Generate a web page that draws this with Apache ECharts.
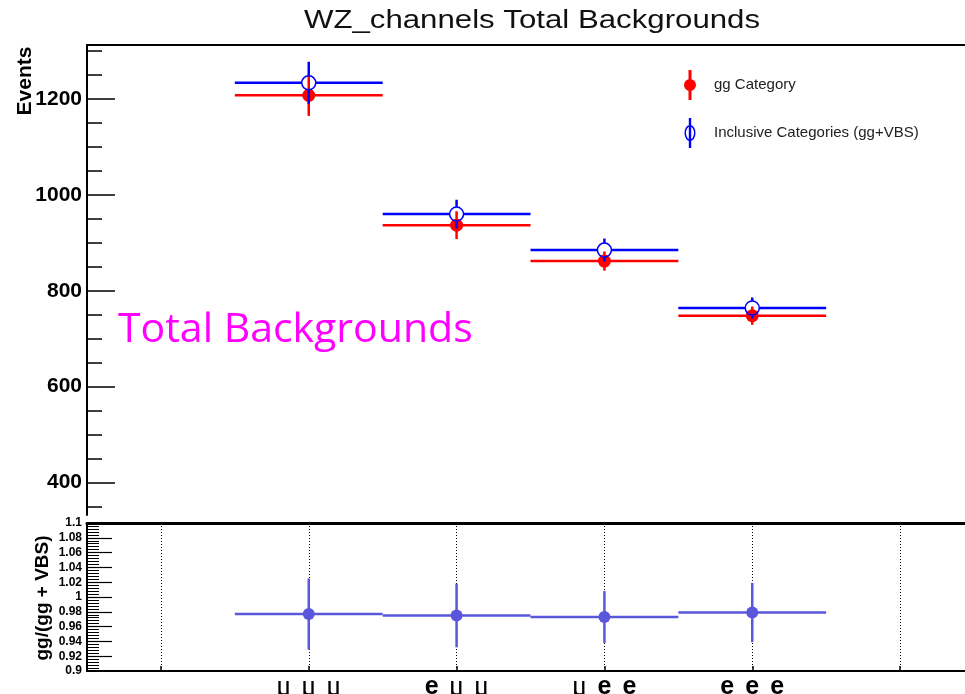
<!DOCTYPE html>
<html>
<head>
<meta charset="utf-8">
<script src="https://cdn.jsdelivr.net/npm/echarts@6/dist/echarts.min.js"></script>
<style>
html, body { margin: 0; padding: 0; background: #fff; }
#chart { width: 965px; height: 694px; }
</style>
</head>
<body>
<div id="chart"></div>
<script>
// channels (bins 1..4 of a 6-bin axis, first and last bins empty)
var channels = ['μμμ', 'eμμ', 'μee', 'eee'];
var channelPos = [1.5, 2.5, 3.5, 4.5];
var binCenters = [0.5, 1.5, 2.5, 3.5, 4.5, 5.5];

var ggValues = [1208, 937, 862, 748];
var ggErrors = [43, 29, 20, 19];
var inclValues = [1234, 960, 885, 764];
var inclErrors = [44, 30, 24, 22];
var ratioValues = [0.977, 0.975, 0.973, 0.979];
var ratioErrors = [0.048, 0.043, 0.035, 0.040];

var eventTicks = [400, 600, 800, 1000, 1200];
var eventMinorTicks = [350, 400, 450, 500, 550, 600, 650, 700, 750, 800, 850, 900, 950, 1000, 1050, 1100, 1150, 1200, 1250, 1300];
var ratioLabels = [0.9, 0.92, 0.94, 0.96, 0.98, 1, 1.02, 1.04, 1.06, 1.08, 1.1];
var ratioMajorTicks = [0.92, 0.94, 0.96, 0.98, 1, 1.02, 1.04, 1.06, 1.08];

var ratioMinorTicks = [];
for (var t = 1; t < 50; t++) {
	ratioMinorTicks.push(+(0.9 + t * 0.004).toFixed(3));
}

function errorPoint(color, filled, radius, lw) {
	return function (params, api) {
		var x = api.value(0), y = api.value(1), e = api.value(2);
		var c = api.coord([x, y]);
		var hi = api.coord([x, y + e]);
		var lo = api.coord([x, y - e]);
		var w = api.size([1, 0])[0];
		var gap = filled ? 0 : radius;
		function seg(x1, y1, x2, y2) {
			return { type: 'line', shape: { x1: x1, y1: y1, x2: x2, y2: y2 }, style: { stroke: color, lineWidth: lw } };
		}
		return {
			type: 'group',
			children: [
				seg(c[0] - w / 2, c[1], c[0] - gap, c[1]),
				seg(c[0] + gap, c[1], c[0] + w / 2, c[1]),
				seg(c[0], hi[1], c[0], c[1] - gap),
				seg(c[0], c[1] + gap, c[0], lo[1]),
				{
					type: 'circle',
					shape: { cx: c[0], cy: c[1], r: radius },
					style: filled ? { fill: color } : { fill: 'none', stroke: color, lineWidth: 1.5 }
				}
			]
		};
	};
}

function pack(vals, errs) {
	return vals.map(function (v, i) { return [channelPos[i], v, errs[i]]; });
}

var redIcon = 'path://M4.5,0 L7.5,0 L7.5,30 L4.5,30 Z M0,15 A6,6 0 1,1 12,15 A6,6 0 1,1 0,15 Z';
var blueIcon = 'path://M4.8,0 L7.2,0 L7.2,30 L4.8,30 Z M0.5,15 A5.5,8 0 1,1 11.5,15 A5.5,8 0 1,1 0.5,15 Z M2,15 A4,6.5 0 1,0 10,15 A4,6.5 0 1,0 2,15 Z';

var chart = echarts.init(document.getElementById('chart'));

var option = {
	animation: false,
	backgroundColor: '#fff',
	legend: {
		orient: 'vertical',
		left: 679,
		top: 65,
		itemWidth: 12,
		itemHeight: 30,
		itemGap: 18,
		selectedMode: false,
		textStyle: { fontFamily: 'Liberation Sans', fontSize: 15, color: '#222', padding: [0, 0, 0, 13] },
		data: [
			{ name: 'gg Category', icon: redIcon },
			{ name: 'Inclusive Categories (gg+VBS)', icon: blueIcon }
		]
	},
	graphic: [
		{
			type: 'text', x: 532, y: 21, scaleX: 1.2,
			style: { text: 'WZ_channels Total Backgrounds', fill: '#111', font: '26px "Liberation Sans"', align: 'center', verticalAlign: 'middle', textAlign: 'center', textVerticalAlign: 'middle' }
		},
		{
			type: 'text', x: 25, y: 81, rotation: Math.PI / 2,
			style: { text: 'Events', fill: '#000', font: 'bold 21px "Liberation Sans"', align: 'center', verticalAlign: 'middle', textAlign: 'center', textVerticalAlign: 'middle' }
		},
		{
			type: 'text', x: 43, y: 598, rotation: Math.PI / 2,
			style: { text: 'gg/(gg + VBS)', fill: '#000', font: 'bold 19px "Liberation Sans"', align: 'center', verticalAlign: 'middle', textAlign: 'center', textVerticalAlign: 'middle' }
		},
		{
			type: 'text', x: 118, y: 330,
			style: { text: 'Total Backgrounds', fill: '#ff00ff', font: '41px "Open Sans"', align: 'left', verticalAlign: 'middle', textAlign: 'left', textVerticalAlign: 'middle' }
		}
	],
	grid: [
		{ left: 87, right: -9, top: 45, bottom: 179, outerBoundsMode: 'none' },
		{ left: 87, right: -9, top: 523, bottom: 23, outerBoundsMode: 'none' }
	],
	xAxis: [
		{
			gridIndex: 0, type: 'value', min: 0, max: 6, position: 'top',
			axisLine: { show: true, lineStyle: { color: '#000', width: 2 } },
			axisTick: { show: false }, axisLabel: { show: false }, splitLine: { show: false }
		},
		{
			gridIndex: 1, type: 'value', min: 0, max: 6, position: 'bottom',
			axisLine: { show: true, lineStyle: { color: '#000', width: 2 } },
			axisTick: { show: true, inside: true, length: 5, customValues: binCenters, lineStyle: { color: '#000', width: 1.5 } },
			splitLine: { show: true, lineStyle: { color: '#000', width: 1, type: [1, 2] } },
			axisLabel: {
				customValues: channelPos,
				margin: 1,
				formatter: function (v) {
					var name = channels[Math.round(v - 1.5)] || '';
					return name.split('').map(function (ch) {
						return ch === 'e' ? '{e|e}' : '{m|' + ch + '}';
					}).join('');
				},
				rich: {
					m: { fontFamily: 'Liberation Serif', fontSize: 29, lineHeight: 30, color: '#000', width: 25, align: 'center' },
					e: { fontFamily: 'Liberation Sans', fontWeight: 'bold', fontSize: 25, lineHeight: 30, color: '#000', width: 25, align: 'center' }
				}
			}
		},
		{
			gridIndex: 1, type: 'value', min: 0, max: 6, position: 'top',
			axisLine: { show: true, lineStyle: { color: '#000', width: 3 } },
			axisTick: { show: false }, axisLabel: { show: false }, splitLine: { show: false }
		}
	],
	yAxis: [
		{
			gridIndex: 0, type: 'value', min: 332, max: 1313, position: 'left',
			axisLine: { show: true, lineStyle: { color: '#000', width: 2 } },
			axisTick: { show: true, inside: true, length: 28, customValues: eventTicks, lineStyle: { color: '#000', width: 1.5 } },
			axisLabel: {
				customValues: eventTicks, margin: 5,
				fontFamily: 'Liberation Sans', fontWeight: 'bold', fontSize: 21, color: '#000',
				formatter: function (v) { return String(v); }
			},
			splitLine: { show: false }
		},
		{
			gridIndex: 0, type: 'value', min: 332, max: 1313, position: 'left', offset: 0,
			axisLine: { show: false },
			axisTick: { show: true, inside: true, length: 15, customValues: eventMinorTicks, lineStyle: { color: '#000', width: 1.5 } },
			axisLabel: { show: false },
			splitLine: { show: false }
		},
		{
			gridIndex: 1, type: 'value', min: 0.9, max: 1.1, position: 'left',
			axisLine: { show: true, lineStyle: { color: '#000', width: 2 } },
			axisTick: { show: true, inside: true, length: 25, customValues: ratioMajorTicks, lineStyle: { color: '#000', width: 1.2 } },
			axisLabel: {
				customValues: ratioLabels, margin: 5,
				fontFamily: 'Liberation Sans', fontWeight: 'bold', fontSize: 12, color: '#000',
				formatter: function (v) { return String(+v.toFixed(2)); }
			},
			splitLine: { show: false }
		},
		{
			gridIndex: 1, type: 'value', min: 0.9, max: 1.1, position: 'left', offset: 0,
			axisLine: { show: false },
			axisTick: { show: true, inside: true, length: 12, customValues: ratioMinorTicks, lineStyle: { color: '#000', width: 1 } },
			axisLabel: { show: false },
			splitLine: { show: false }
		}
	],
	series: [
		{
			name: 'gg Category', type: 'custom', xAxisIndex: 0, yAxisIndex: 0,
			itemStyle: { color: '#ff0000' },
			renderItem: errorPoint('#ff0000', true, 6.5, 2.5),
			encode: { x: 0, y: 1 },
			data: pack(ggValues, ggErrors)
		},
		{
			name: 'Inclusive Categories (gg+VBS)', type: 'custom', xAxisIndex: 0, yAxisIndex: 0,
			itemStyle: { color: '#0000ff' },
			renderItem: errorPoint('#0000ff', false, 7, 2.5),
			encode: { x: 0, y: 1 },
			data: pack(inclValues, inclErrors)
		},
		{
			name: 'ratio', type: 'custom', xAxisIndex: 1, yAxisIndex: 2,
			itemStyle: { color: '#5b57dc' },
			renderItem: errorPoint('#5b57dc', true, 6, 2.5),
			encode: { x: 0, y: 1 },
			data: pack(ratioValues, ratioErrors)
		}
	]
};

chart.setOption(option);
</script>
</body>
</html>
